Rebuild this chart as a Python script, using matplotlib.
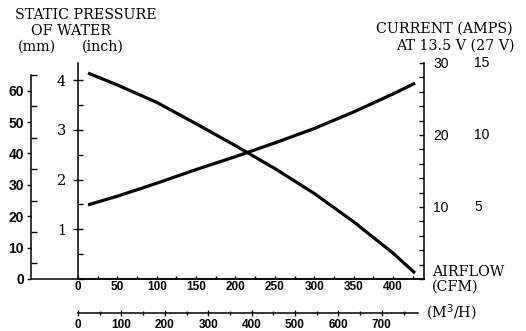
import matplotlib
matplotlib.use("Agg")
import matplotlib.pyplot as plt
from matplotlib.ticker import MultipleLocator, FixedLocator

# --- Data ---
airflow = [12.7, 50, 100, 150, 200, 250, 300, 350, 400, 428]            # CFM
pressure_in = [4.14, 3.90, 3.55, 3.12, 2.68, 2.22, 1.72, 1.15, 0.52, 0.12]  # inch H2O
current_a = [10.3, 11.5, 13.3, 15.2, 17.0, 18.9, 20.9, 23.2, 25.7, 27.2]   # A at 13.5 V

cfm_ticks = [0, 50, 100, 150, 200, 250, 300, 350, 400]
m3h_ticks = [0, 100, 200, 300, 400, 500, 600, 700]
mm_ticks = [0, 10, 20, 30, 40, 50, 60]
inch_ticks = [1, 2, 3, 4]
amp_ticks = [10, 20, 30]
amp_27v_labels = ["5", "10", "15"]

W, H = 526, 331
SANS = "Liberation Sans"
SERIF = "DejaVu Serif"


def box(l, t, r, b):
    return [l / W, 1 - b / H, (r - l) / W, (b - t) / H]


fig = plt.figure(figsize=(W / 100, H / 100), dpi=100)

# --- mm-as (links buiten) ---
ax_mm = fig.add_axes(box(31, 75, 424, 279))
ax_mm.set_ylim(0, 65)
ax_mm.set_xlim(0, 1)
for s in ("top", "right"):
    ax_mm.spines[s].set_visible(False)
for s in ("left", "bottom"):
    ax_mm.spines[s].set_linewidth(1.1)
ax_mm.set_xticks([])
ax_mm.yaxis.set_major_locator(FixedLocator(mm_ticks))
ax_mm.yaxis.set_minor_locator(MultipleLocator(5))
ax_mm.tick_params(axis="y", which="major", direction="out", length=3, width=1,
                  pad=2, labelsize=10, labelfontfamily=SANS)
ax_mm.tick_params(axis="y", which="minor", direction="in", length=4, width=1)
for lab in ax_mm.get_yticklabels():
    lab.set_fontweight("bold")

# --- hoofdas: CFM en inch ---
ax = fig.add_axes(box(78, 63, 424, 279))
ax.patch.set_alpha(0)
ax.set_xlim(0, (424 - 78) / 0.7875)
ax.set_ylim(0, (279 - 63) / 49.75)
ax.spines["top"].set_visible(False)
ax.spines["right"].set_visible(False)
for s in ("left", "bottom"):
    ax.spines[s].set_linewidth(1.1)
ax.plot(airflow, pressure_in, color="black", lw=2.3, clip_on=False,
        solid_capstyle="butt", solid_joinstyle="round")

ax.xaxis.set_major_locator(FixedLocator(cfm_ticks))
ax.xaxis.set_minor_locator(MultipleLocator(25))
ax.tick_params(axis="x", which="both", direction="in", length=2.5, width=1,
               pad=1.5, labelsize=8.5, labelfontfamily=SANS)
ax.yaxis.set_major_locator(FixedLocator(inch_ticks))
ax.yaxis.set_minor_locator(MultipleLocator(0.5))
ax.tick_params(axis="y", which="major", direction="inout", length=7, width=1,
               pad=5, labelsize=10.5, labelfontfamily=SERIF)
ax.tick_params(axis="y", which="minor", direction="in", length=3.5, width=1)
for lab in ax.get_xticklabels():
    lab.set_fontweight("bold")

# --- stroom (rechts) ---
ax_cur = ax.twinx()
ax_cur.set_ylim(0, 30)
for s in ("top", "left", "bottom"):
    ax_cur.spines[s].set_visible(False)
ax_cur.spines["right"].set_linewidth(1.1)
ax_cur.plot(airflow, current_a, color="black", lw=2.3, clip_on=False,
            solid_capstyle="butt", solid_joinstyle="round")
ax_cur.yaxis.set_major_locator(FixedLocator(amp_ticks))
ax_cur.yaxis.set_minor_locator(MultipleLocator(2))
ax_cur.tick_params(axis="y", which="both", direction="in", length=3.5, width=1,
                   pad=6.5, labelsize=10, labelfontfamily=SANS)
for v, lab in zip(amp_ticks, amp_27v_labels):
    ax_cur.text((474 - 78) / 346, v, lab, transform=ax_cur.get_yaxis_transform(),
                ha="left", va="center", fontsize=10, family=SANS)

# --- M3/H-as onderaan ---
ax_m3 = fig.add_axes(box(78, 312, 418, 313))
ax_m3.patch.set_alpha(0)
ax_m3.set_xlim(0, (418 - 78) / 0.434)
for s in ("top", "left", "right"):
    ax_m3.spines[s].set_visible(False)
ax_m3.spines["bottom"].set_linewidth(1.1)
ax_m3.set_yticks([])
ax_m3.xaxis.set_major_locator(FixedLocator(m3h_ticks))
ax_m3.xaxis.set_minor_locator(MultipleLocator(50))
ax_m3.tick_params(axis="x", which="major", direction="inout", length=5, width=1,
                  pad=2, labelsize=8.5, labelfontfamily=SANS)
ax_m3.tick_params(axis="x", which="minor", direction="inout", length=3, width=1)
for lab in ax_m3.get_xticklabels():
    lab.set_fontweight("bold")

# --- teksten ---
tkw = dict(family=SERIF, fontsize=10.3, va="center")
fig.text(86 / W, 1 - 15 / H, "STATIC PRESSURE", ha="center", **tkw)
fig.text(71 / W, 1 - 31 / H, "OF WATER", ha="center", **tkw)
fig.text(37 / W, 1 - 47 / H, "(mm)", ha="center", **tkw)
fig.text(103 / W, 1 - 47 / H, "(inch)", ha="center", **tkw)
fig.text(513 / W, 1 - 29 / H, "CURRENT (AMPS)", ha="right", **tkw)
fig.text(515 / W, 1 - 46 / H, "AT 13.5 V (27 V)", ha="right", **tkw)
fig.text(432 / W, 1 - 272 / H, "AIRFLOW", ha="left", **tkw)
fig.text(432 / W, 1 - 287 / H, "(CFM)", ha="left", **tkw)
fig.text(426 / W, 1 - 313 / H, "(M$^3$/H)", ha="left", **tkw)

fig.savefig("out.png", dpi=100)
